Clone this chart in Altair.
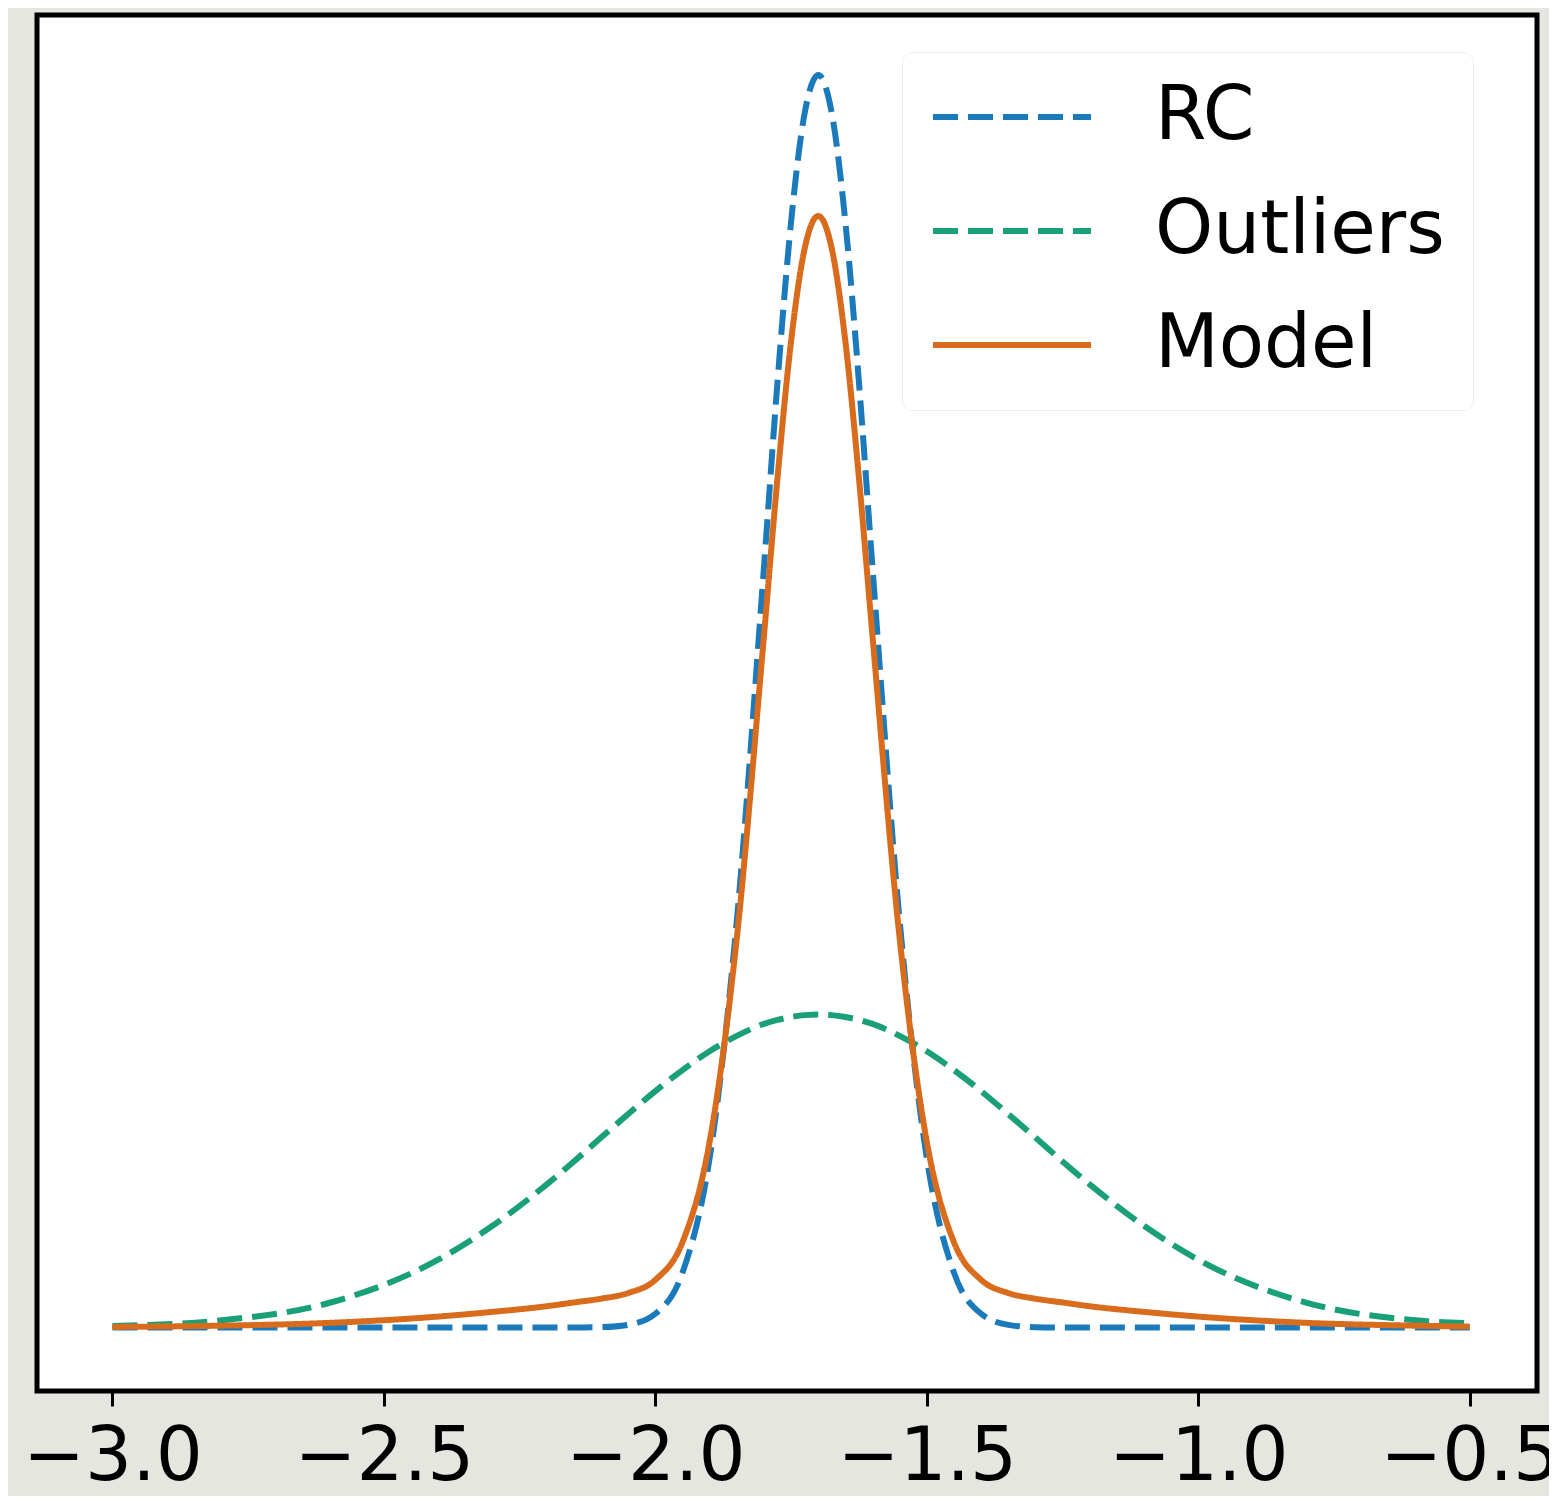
import altair as alt
import pandas as pd

# x positions
X = [-3.0, -2.8, -2.6, -2.4, -2.3, -2.2, -2.15, -2.1, -2.05, -2.0, -1.95, -1.9,
     -1.85, -1.8, -1.775, -1.75, -1.725, -1.7, -1.675, -1.65, -1.625, -1.6,
     -1.55, -1.5, -1.45, -1.4, -1.35, -1.3, -1.25, -1.2, -1.1, -1.0, -0.8,
     -0.6, -0.5]

RC = [0, 0, 0, 0, 0, 0, 0.0002, 0.0013, 0.0087, 0.044, 0.175, 0.54, 1.295,
      2.42, 3.011, 3.521, 3.867, 3.989, 3.867, 3.521, 3.011, 2.42, 1.295,
      0.54, 0.175, 0.044, 0.0087, 0.0013, 0.0002, 0, 0, 0, 0, 0, 0]

OUTLIERS = [0.005, 0.023, 0.079, 0.216, 0.324, 0.456, 0.529, 0.605, 0.680,
            0.753, 0.820, 0.880, 0.929, 0.967, 0.980, 0.989, 0.995, 0.997,
            0.995, 0.989, 0.980, 0.967, 0.929, 0.880, 0.820, 0.753, 0.680,
            0.605, 0.529, 0.456, 0.324, 0.216, 0.079, 0.023, 0.014]

MODEL = [0.002, 0.006, 0.015, 0.035, 0.050, 0.068, 0.080, 0.092, 0.110,
         0.152, 0.272, 0.592, 1.240, 2.202, 2.706, 3.141, 3.436, 3.540,
         3.436, 3.141, 2.706, 2.202, 1.240, 0.592, 0.272, 0.152, 0.110,
         0.092, 0.080, 0.068, 0.050, 0.035, 0.015, 0.006, 0.003]

SERIES = ["RC", "Outliers", "Model"]
COLORS = ["#1a7abb", "#1aa078", "#d96b1c"]
DASHES = [[25, 10], [25, 10], [1, 0]]
TICKS = [-3.0, -2.5, -2.0, -1.5, -1.0, -0.5]

rows = []
for name, vals in zip(SERIES, [RC, OUTLIERS, MODEL]):
    for i, (x, y) in enumerate(zip(X, vals)):
        rows.append({"x": x, "y": y, "series": name, "order": i})
df = pd.DataFrame(rows)

xscale = alt.Scale(domain=[-3.139, -0.376], nice=False, zero=False)
yscale = alt.Scale(domain=[-0.202, 4.180], nice=False, zero=False)

color = alt.Color(
    "series:N",
    scale=alt.Scale(domain=SERIES, range=COLORS),
    sort=SERIES,
    legend=alt.Legend(
        title=None,
        orient="none",
        legendX=865,
        legendY=37,
        symbolType="M-3.95,0H3.95",
        symbolSize=1600,
        symbolStrokeWidth=6,
        symbolOffset=45,
        labelFont="DejaVu Sans",
        labelFontSize=74,
        labelColor="black",
        labelOffset=106,
        labelLimit=2000,
        rowPadding=40,
        padding=28,
        fillColor="white",
        strokeColor="#eeeeee",
        cornerRadius=10,
    ),
)
dash = alt.StrokeDash(
    "series:N",
    scale=alt.Scale(domain=SERIES, range=DASHES),
    sort=SERIES,
    legend=None,
)

base = alt.Chart(df).mark_line(strokeWidth=6, interpolate="monotone", strokeCap="butt").encode(
    x=alt.X("x:Q", scale=xscale,
            axis=alt.Axis(values=TICKS, format=".1f", title=None, grid=False,
                          domain=False, ticks=True, tickSize=15, tickWidth=3,
                          tickColor="black", labelFont="DejaVu Sans",
                          labelFontSize=74, labelColor="black", labelPadding=15,
                          labelFlush=False, labelOverlap=False,
                          labelExpr="replace(datum.label, '-', '\u2212')")),
    y=alt.Y("y:Q", scale=yscale, axis=None),
    color=color,
    strokeDash=dash,
    order="order:Q",
)

layers = [base.transform_filter(alt.datum.series == s) for s in SERIES]

chart = alt.layer(*layers).properties(
    width=1500,
    height=1376,
    autosize=alt.AutoSizeParams(type="none"),
    padding={"left": 29, "top": 7, "right": 12, "bottom": 105},
    background="#e6e6e1",
).configure_view(
    fill="white", stroke="black", strokeWidth=5
)

chart.save("out.html", embed_options={"renderer": "svg", "actions": False})
